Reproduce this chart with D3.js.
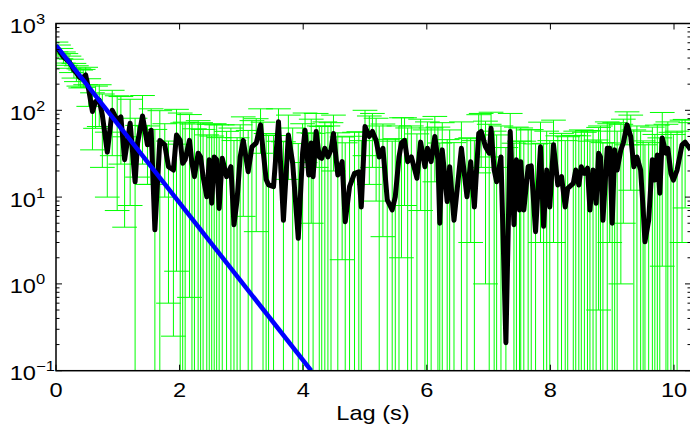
<!DOCTYPE html>
<html><head><meta charset="utf-8">
<script src="https://cdn.jsdelivr.net/npm/d3@7"></script>
<style>html,body{margin:0;padding:0;background:#fff;} svg{display:block;} text{font-family:"Liberation Sans",Arial,Helvetica,sans-serif;fill:#000;}</style>
</head><body><svg id="c" width="690" height="427"></svg>
<script>
// Lag (s) of each autocorrelation estimate
const lags = [0.00,0.04,0.08,0.12,0.16,0.21,0.25,0.29,0.33,0.37,0.40,0.44,0.48,0.53,0.59,0.64,0.70,0.75,0.83,0.91,
0.99,1.05,1.11,1.20,1.28,1.32,1.40,1.48,1.54,1.60,1.68,1.76,1.82,1.90,1.95,2.01,2.05,2.09,2.16,2.20,
2.24,2.30,2.34,2.38,2.44,2.48,2.52,2.56,2.60,2.64,2.69,2.76,2.83,2.88,2.93,2.98,3.03,3.11,3.17,3.24,
3.31,3.35,3.40,3.44,3.52,3.60,3.68,3.76,3.83,3.92,3.99,4.03,4.09,4.13,4.16,4.21,4.26,4.30,4.35,4.40,
4.45,4.49,4.56,4.63,4.68,4.75,4.83,4.90,4.94,5.00,5.07,5.12,5.18,5.23,5.29,5.36,5.44,5.49,5.55,5.59,
5.64,5.69,5.75,5.84,5.90,5.97,6.01,6.07,6.13,6.18,6.21,6.25,6.33,6.37,6.44,6.56,6.65,6.71,6.77,6.84,
6.88,6.95,7.01,7.04,7.09,7.13,7.20,7.28,7.35,7.41,7.45,7.50,7.52,7.57,7.64,7.69,7.76,7.84,7.89,7.94,
7.99,8.05,8.12,8.18,8.24,8.28,8.37,8.41,8.46,8.50,8.55,8.60,8.64,8.69,8.74,8.78,8.81,8.85,8.92,8.96,
9.00,9.04,9.08,9.14,9.18,9.24,9.30,9.35,9.40,9.46,9.50,9.53,9.59,9.65,9.69,9.73,9.77,9.81,9.87,9.90,
9.95,9.99,10.05,10.13,10.18,10.27];
// Autocorrelation values (black line)
const acf = [541,500,454,410,390,363,330,291,270,245,236,240,255,171,97,126,131,88,33,100,
77,84,27,71,15,42,86,40,59,4.2,45,40,22.4,20.5,52,45,24.5,27,45,24.5,
17.2,32,29,17.2,10.1,27,8.5,29,27,7.4,28,17.2,22.4,4.8,9.3,29,45,19.6,38,42,
68,35,16,13.8,13.2,74,5.4,52,24.5,3.35,32,59,18,42,17.2,57,29,28,36.5,29,
35,54,18,25.6,5.2,13.2,18.8,19.6,7.7,65,50,57,45,29,36.5,9.3,7.1,10.1,29,42,
45,25.6,29,16.5,43,22.4,36.5,25.6,50,27,5.0,35,8.9,22.4,5.4,36.5,10.1,25.6,7.7,54,
57,38,32,62,20.5,15,29,0.21,57,4.8,27,7.1,25.6,7.1,22.4,22.9,4.0,38,4.6,20.5,
7.7,40,13.8,17.2,7.7,12.6,14.4,20.5,13.8,22.4,18.8,21.5,7.1,20.5,8.5,32,29,5.4,36.5,36.5,
5.0,35,20.5,35,42,68,50,22.4,29,20.5,7.4,3.06,5.4,27,15.7,30.5,11.1,48,32,36.5,
18.8,15.7,20.5,40,43,35];
// Error bar half-lengths (green)
const sigma = [70,65,62,60,60,58,58,56,56,55,55,56,58,60,62,64,66,66,23,70,
70,60,22.5,63,66,25,62,26,45,56,54,30,21.8,20.25,50.6,48,47,46,44.3,45,
44,44,43,43,42,42,42,41,41,41,40,40,40,40,39,39,39,39,38,38,
36,38,38,38,38,30,38,36,38,38,38,34,37,37,37,35,37,37,37,37,
37,34,37,23.7,37,37,37,37,37,35,36,35,36,37,33,37,37,37,37,40,
37,37,37,37,36,37,37,37,35,37,37,37,37,37,37,37,37,22.6,37,35,
35,37,37,33,37,37,37,37,35,37,37,37,37,37,37,37,37,35,37,37,
37,37,37,37,37,37,37,37,37,37,37,37,37,37,37,31.5,37,37,37,33.5,
37,37,37,34,37,28,38,37,37,37,37,37,37,37,37,37,37,46.4,37,37,
37,37,37,37,35.5,37];
// Exponential fit (blue), two read points of a straight line on log axis
const fitLag = [0, 4.13];
const fitVal = [560, 0.1];
const xTicks = [0,2,4,6,8,10];
const yTickExps = [-1,0,1,2,3];
const xLabel = "Lag (s)";

const L=56, R=691, T=23.5, B=370.7;
const svg = d3.select("#c");
const x = d3.scaleLinear().domain([0,(R-L)/61.8]).range([L,R]);
const y = d3.scaleLog().domain([0.1,1000]).range([B,T]);
const capHalf = 0.2;
const SX = 1.18;

svg.append("defs").append("clipPath").attr("id","pc")
  .append("rect").attr("x",L).attr("y",T).attr("width",R-L).attr("height",B-T);
const plot = svg.append("g").attr("clip-path","url(#pc)");

const data = lags.map((l,i)=>({l, v:acf[i], s:sigma[i]}));
const eb = plot.append("g").attr("stroke","#00ff00").attr("stroke-width",1).attr("fill","none");
data.forEach(d=>{
  const up = d.v + d.s, lo = d.v - d.s;
  const yU = y(up), yL = lo>0 ? y(lo) : B+10;
  eb.append("line").attr("x1",x(d.l)).attr("x2",x(d.l)).attr("y1",yU).attr("y2",yL);
  eb.append("line").attr("x1",x(d.l-capHalf)).attr("x2",x(d.l+capHalf)).attr("y1",yU).attr("y2",yU);
  if (lo>0) eb.append("line").attr("x1",x(d.l-capHalf)).attr("x2",x(d.l+capHalf)).attr("y1",yL).attr("y2",yL);
});

plot.append("path").datum(data)
  .attr("d", d3.line().x(d=>x(d.l)).y(d=>y(d.v)))
  .attr("fill","none").attr("stroke","#000").attr("stroke-width",5).attr("stroke-linejoin","round");

plot.append("path").datum(fitLag.map((l,i)=>({l, v:fitVal[i]})))
  .attr("d", d3.line().x(d=>x(d.l)).y(d=>y(d.v)))
  .attr("fill","none").attr("stroke","#0000ff").attr("stroke-width",4.5);

// axes box
const ax = svg.append("g").attr("stroke","#000").attr("stroke-width",1.5).attr("fill","none");
ax.append("rect").attr("x",L).attr("y",T).attr("width",R-L).attr("height",B-T);
xTicks.forEach(t=>{
  ax.append("line").attr("x1",x(t)).attr("x2",x(t)).attr("y1",B).attr("y2",B-6).attr("stroke-width",1);
  ax.append("line").attr("x1",x(t)).attr("x2",x(t)).attr("y1",T).attr("y2",T+6).attr("stroke-width",1);
});
yTickExps.forEach(e=>{
  const yy = y(Math.pow(10,e));
  ax.append("line").attr("x1",L).attr("x2",L+6).attr("y1",yy).attr("y2",yy).attr("stroke-width",1);
  ax.append("line").attr("x1",R).attr("x2",R-6).attr("y1",yy).attr("y2",yy).attr("stroke-width",1);
  if (e<3) for (let m=2;m<=9;m++){
    const ym = y(m*Math.pow(10,e));
    ax.append("line").attr("x1",L).attr("x2",L+3.5).attr("y1",ym).attr("y2",ym).attr("stroke-width",1);
    ax.append("line").attr("x1",R).attr("x2",R-3.5).attr("y1",ym).attr("y2",ym).attr("stroke-width",1);
  }
});

// labels
xTicks.forEach(t=>{
  svg.append("text").attr("transform",`translate(${x(t)},396.5) scale(${SX},1)`)
    .attr("text-anchor","middle").attr("font-size",20).text(t);
});
yTickExps.forEach(e=>{
  const yy = y(Math.pow(10,e));
  svg.append("text").attr("transform",`translate(36,${yy+9.5}) scale(${SX},1)`)
    .attr("text-anchor","end").attr("font-size",20).text("10");
  svg.append("text").attr("transform",`translate(36,${yy+0.5}) scale(${SX},1)`)
    .attr("text-anchor","start").attr("font-size",14).text(e<0 ? "\u2212"+Math.abs(e) : String(e));
});
svg.append("text").attr("transform",`translate(${(L+690)/2},420) scale(${SX},1)`)
  .attr("text-anchor","middle").attr("font-size",20).text(xLabel);
</script></body></html>
